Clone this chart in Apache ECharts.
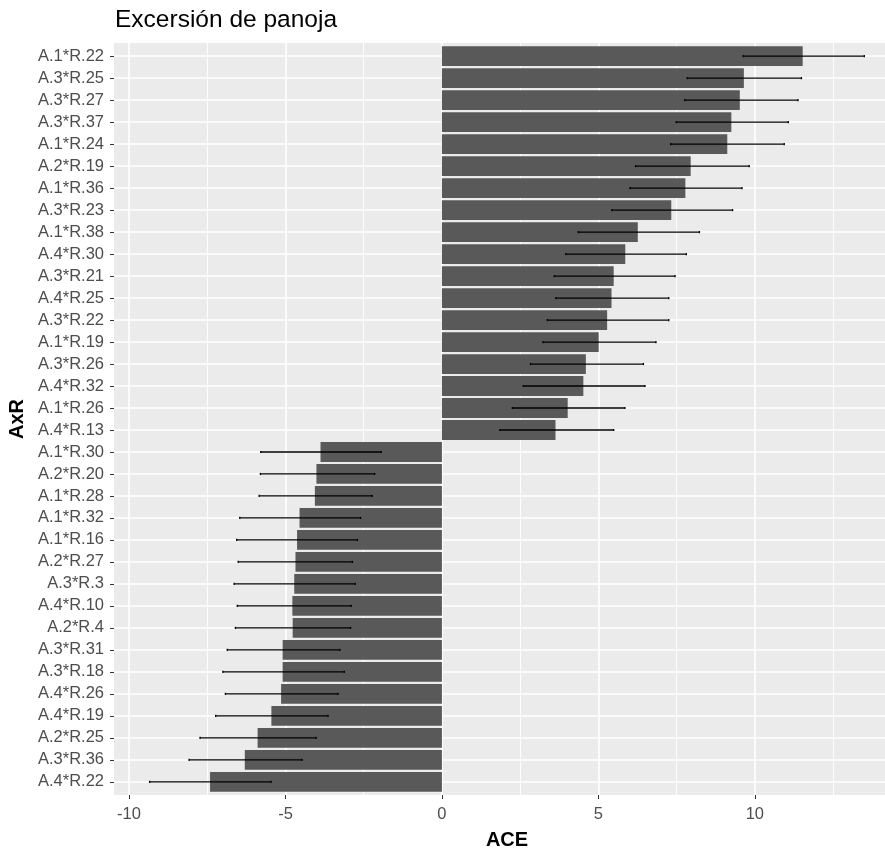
<!DOCTYPE html>
<html>
<head>
<meta charset="utf-8">
<script src="https://cdn.jsdelivr.net/npm/echarts@6/dist/echarts.min.js"></script>
<style>html,body{margin:0;padding:0;background:#fff;}#c{width:885px;height:850px;}</style>
</head>
<body>
<div id="c"></div>
<script>
const categories = ['A.1*R.22','A.3*R.25','A.3*R.27','A.3*R.37','A.1*R.24','A.2*R.19','A.1*R.36','A.3*R.23','A.1*R.38','A.4*R.30','A.3*R.21','A.4*R.25','A.3*R.22','A.1*R.19','A.3*R.26','A.4*R.32','A.1*R.26','A.4*R.13','A.1*R.30','A.2*R.20','A.1*R.28','A.1*R.32','A.1*R.16','A.2*R.27','A.3*R.3','A.4*R.10','A.2*R.4','A.3*R.31','A.3*R.18','A.4*R.26','A.4*R.19','A.2*R.25','A.3*R.36','A.4*R.22'];
const aceValues = [11.53,9.65,9.52,9.25,9.12,7.95,7.78,7.33,6.26,5.86,5.49,5.42,5.28,5.01,4.60,4.52,4.02,3.63,-3.88,-4.01,-4.06,-4.55,-4.63,-4.68,-4.72,-4.78,-4.77,-5.09,-5.09,-5.14,-5.45,-5.89,-6.30,-7.41];
const errLower = [9.63,7.84,7.76,7.49,7.31,6.19,6.01,5.43,4.36,3.96,3.59,3.64,3.37,3.23,2.83,2.60,2.25,1.85,-5.79,-5.80,-5.84,-6.46,-6.56,-6.51,-6.64,-6.54,-6.60,-6.86,-7.00,-6.92,-7.23,-7.73,-8.08,-9.34];
const errUpper = [13.50,11.49,11.38,11.07,10.94,9.82,9.59,9.29,8.23,7.81,7.45,7.25,7.25,6.84,6.44,6.49,5.85,5.49,-1.94,-2.15,-2.23,-2.60,-2.70,-2.86,-2.77,-2.90,-2.92,-3.26,-3.12,-3.32,-3.64,-4.02,-4.47,-5.46];
const xMajorTicks = [-10,-5,0,5,10];
const xMinorTicks = [-7.5,-2.5,2.5,7.5,12.5];
const xMin = -10.48, xMax = 14.64;

const catIndex = categories.map((c, i) => i);
const yMin = -0.6, yMax = categories.length - 1 + 0.6;
const barData = categories.map((c, i) => [i, aceValues[i]]);
const errData = categories.map((c, i) => [i, errLower[i], errUpper[i]]);

const FONT = 'Liberation Sans, Arial, sans-serif';
const chart = echarts.init(document.getElementById('c'), null, {renderer: 'canvas'});
chart.setOption({
  animation: false,
  backgroundColor: '#ffffff',
  title: {
    text: 'Excersión de panoja', left: 110, top: 3,
    textStyle: {fontFamily: FONT, fontSize: 24.5, fontWeight: 'normal', color: '#000000'}
  },
  grid: {left: 114, top: 43, width: 786, height: 752, outerBoundsMode: 'none', show: true, backgroundColor: '#EBEBEB', borderWidth: 0, containLabel: false},
  xAxis: [{
    type: 'value', min: xMin, max: xMax, position: 'bottom',
    name: 'ACE', nameLocation: 'middle', nameGap: 35,
    nameTextStyle: {fontFamily: FONT, fontSize: 20, fontWeight: 'bold', color: '#000000'},
    axisLine: {show: false, onZero: false},
    axisTick: {show: true, length: 4, lineStyle: {color: '#333333', width: 1}, customValues: xMajorTicks},
    axisLabel: {customValues: xMajorTicks, fontFamily: FONT, fontSize: 16.5, color: '#4D4D4D', margin: 11},
    splitLine: {show: true, lineStyle: {color: '#FFFFFF', width: 1.6}},
    z: 1
  }, {
    type: 'value', min: xMin, max: xMax, position: 'bottom',
    axisLine: {show: false, onZero: false},
    axisTick: {show: false, customValues: xMinorTicks},
    axisLabel: {show: false, customValues: xMinorTicks},
    splitLine: {show: true, lineStyle: {color: '#FFFFFF', width: 0.9}},
    z: 0
  }],
  yAxis: {
    type: 'value', min: yMin, max: yMax, inverse: true, position: 'left',
    name: 'AxR', nameLocation: 'middle', nameGap: 81, nameRotate: 90,
    nameTextStyle: {fontFamily: FONT, fontSize: 20, fontWeight: 'bold', color: '#000000'},
    axisLine: {show: false, onZero: false},
    axisTick: {show: true, length: 4, lineStyle: {color: '#333333', width: 1}, customValues: catIndex},
    axisLabel: {customValues: catIndex, formatter: v => categories[Math.round(v)] || '', fontFamily: FONT, fontSize: 16.5, color: '#4D4D4D', margin: 10},
    splitLine: {show: true, lineStyle: {color: '#FFFFFF', width: 1.6}}
  },
  series: [{
    type: 'custom', xAxisIndex: 0, yAxisIndex: 0,
    encode: {x: 1, y: 0},
    data: barData,
    renderItem: function (params, api) {
      const i = api.value(0), v = api.value(1);
      const p0 = api.coord([0, i]);
      const p1 = api.coord([v, i]);
      const h = api.size([0, 1])[1] * 0.9;
      return {
        type: 'rect',
        shape: {x: Math.min(p0[0], p1[0]), y: p0[1] - h / 2, width: Math.abs(p1[0] - p0[0]), height: h},
        style: {fill: '#595959'}
      };
    },
    z: 2
  }, {
    type: 'custom', xAxisIndex: 0, yAxisIndex: 0,
    encode: {x: [1, 2], y: 0},
    data: errData,
    renderItem: function (params, api) {
      const i = api.value(0);
      const a = api.coord([api.value(1), i]);
      const b = api.coord([api.value(2), i]);
      const c = api.size([0, 0.1])[1] / 2;
      const st = {stroke: '#000000', lineWidth: 1.3, fill: null};
      return {
        type: 'group',
        children: [
          {type: 'line', shape: {x1: a[0], y1: a[1], x2: b[0], y2: b[1]}, style: st},
          {type: 'line', shape: {x1: a[0], y1: a[1] - c, x2: a[0], y2: a[1] + c}, style: st},
          {type: 'line', shape: {x1: b[0], y1: b[1] - c, x2: b[0], y2: b[1] + c}, style: st}
        ]
      };
    },
    z: 3
  }]
});
</script>
</body>
</html>
